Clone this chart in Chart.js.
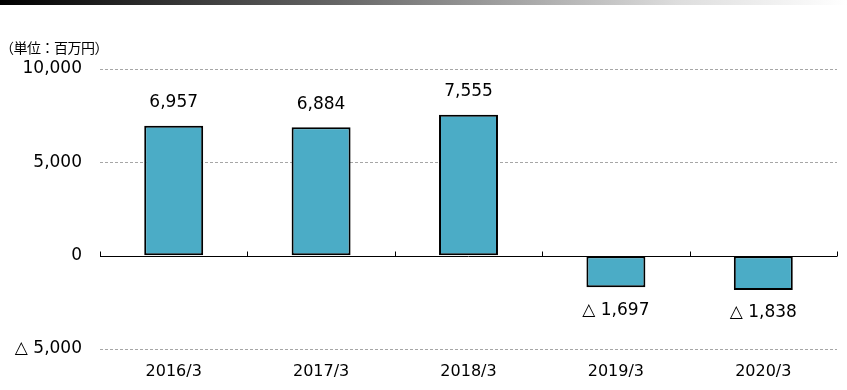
<!DOCTYPE html>
<html>
<head>
<meta charset="utf-8">
<script src="https://cdn.jsdelivr.net/npm/chart.js@4/dist/chart.umd.min.js"></script>
<style>
  body { margin: 0; background: #fff; }
  #wrap { position: relative; width: 847px; height: 390px; }
  #topbar { position: absolute; left: 0; top: 0; width: 847px; height: 5px;
            background: linear-gradient(to right, #000 0%, #666 40%, #ddd 80%, #fff 100%); }
  #unit { position: absolute; left: 0; top: 37px; font-family: "Noto Sans CJK JP", sans-serif;
          font-size: 14px; letter-spacing: -0.5px; color: #000; }
  canvas { position: absolute; left: 0; top: 0; }
</style>
</head>
<body>
<div id="wrap">
  <canvas id="chart" width="847" height="390"></canvas>
  <div id="topbar"></div>
  <div id="unit">（単位：百万円）</div>
</div>
<script>
// data
const years = ['2016/3', '2017/3', '2018/3', '2019/3', '2020/3'];
const profit = [6957, 6884, 7555, -1697, -1838];
const yTicks = [-5000, 0, 5000, 10000];

const numFont = '"DejaVu Sans", Verdana, sans-serif';

function fmt(v) {
    const s = Math.abs(v).toLocaleString('en-US');
    return v < 0 ? '△ ' + s : s;
}

// zero line with small ticks at category boundaries
const zeroLinePlugin = {
    id: 'zeroLine',
    afterDatasetsDraw(chart) {
        const ctx = chart.ctx;
        const x = chart.scales.x, y = chart.scales.y;
        const y0 = Math.round(y.getPixelForValue(0)) + 0.5;
        ctx.save();
        ctx.strokeStyle = '#000';
        ctx.lineWidth = 1;
        ctx.beginPath();
        ctx.moveTo(chart.chartArea.left, y0);
        ctx.lineTo(chart.chartArea.right, y0);
        for (let i = 0; i <= years.length; i++) {
            const px = Math.round(x.getPixelForValue(i - 0.5)) + 0.5;
            ctx.moveTo(px, y0);
            ctx.lineTo(px, y0 - 5);
        }
        ctx.stroke();
        ctx.restore();
    }
};

// value labels
const valueLabels = {
    id: 'valueLabels',
    afterDatasetsDraw(chart) {
        const ctx = chart.ctx;
        const meta = chart.getDatasetMeta(0);
        ctx.save();
        ctx.font = '17px ' + numFont;
        ctx.fillStyle = '#000';
        ctx.textAlign = 'center';
        ctx.textBaseline = 'middle';
        meta.data.forEach((bar, i) => {
            const v = profit[i];
            const ty = v >= 0 ? bar.y - 23 : bar.y + 23;
            ctx.fillText(fmt(v), bar.x, ty);
        });
        ctx.restore();
    }
};

new Chart(document.getElementById('chart'), {
    type: 'bar',
    data: {
        labels: years,
        datasets: [{
            data: profit,
            backgroundColor: '#4BACC6',
            borderColor: '#000',
            borderWidth: 2,
            borderSkipped: false,
            barPercentage: 0.4,
            categoryPercentage: 1.0
        }]
    },
    options: {
        responsive: false,
        animation: false,
        layout: { padding: { top: 69, right: 10, left: 0, bottom: 0 } },
        plugins: { legend: { display: false }, tooltip: { enabled: false } },
        scales: {
            x: {
                grid: { display: false, drawTicks: false },
                border: { display: false },
                ticks: { color: '#000', font: { family: numFont, size: 16 }, padding: 13 },
                afterFit(scale) { scale.height = 41; }
            },
            y: {
                min: -5000,
                max: 10000,
                afterBuildTicks(scale) { scale.ticks = yTicks.map(v => ({ value: v })); },
                grid: {
                    drawTicks: false,
                    color: ctx => (ctx.tick && ctx.tick.value === 0) ? 'rgba(0,0,0,0)' : '#a6a6a6'
                },
                border: { display: false, dash: [3, 2] },
                ticks: {
                    color: '#000',
                    font: { family: numFont, size: 17 },
                    padding: 18,
                    callback: v => fmt(v)
                },
                afterFit(scale) { scale.width = 100; }
            }
        }
    },
    plugins: [zeroLinePlugin, valueLabels]
});
</script>
</body>
</html>
